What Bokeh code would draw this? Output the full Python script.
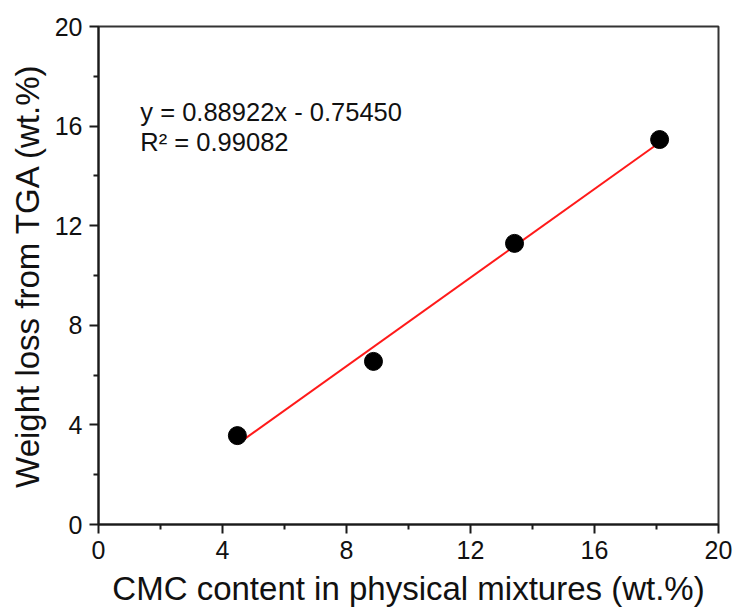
from bokeh.plotting import figure
from bokeh.models import FixedTicker, Label
from bokeh.embed import file_html
from bokeh.resources import INLINE

# CMC content vs. TGA weight loss
cmc_content = [4.48, 8.87, 13.42, 18.10]
weight_loss = [3.57, 6.55, 11.29, 15.46]

# linear fit parameters
slope = 0.88922
intercept = -0.75450
r_squared = 0.99082

major_ticks = [0, 4, 8, 12, 16, 20]
minor_ticks = [2, 6, 10, 14, 18]

FONT = "Liberation Sans"

p = figure(
    width=736, height=616,
    x_range=(0, 20), y_range=(0, 20),
    output_backend="svg", toolbar_location=None,
    min_border_left=98, min_border_right=18,
    min_border_top=26, min_border_bottom=92,
    background_fill_color="white", border_fill_color="white",
)
p.grid.visible = False
p.outline_line_color = "#333333"
p.outline_line_width = 2

for ax in (p.xaxis[0], p.yaxis[0]):
    ax.ticker = FixedTicker(ticks=major_ticks, minor_ticks=minor_ticks)
    ax.axis_line_width = 2
    ax.axis_line_color = "#1a1a1a"
    ax.major_tick_line_width = 2
    ax.minor_tick_line_width = 2
    ax.major_tick_line_color = "#1a1a1a"
    ax.minor_tick_line_color = "#1a1a1a"
    ax.major_tick_out = 9
    ax.major_tick_in = 0
    ax.minor_tick_out = 5
    ax.minor_tick_in = 0
    ax.major_label_text_font = FONT
    ax.major_label_text_font_size = "25px"
    ax.major_label_text_color = "#111111"
    ax.axis_label_text_font = FONT
    ax.axis_label_text_font_size = "33px"
    ax.axis_label_text_font_style = "normal"
    ax.axis_label_text_color = "#111111"
    ax.major_label_standoff = 7

p.xaxis.axis_label = "CMC content in physical mixtures (wt.%)"
p.yaxis.axis_label = "Weight loss from TGA (wt.%)"
p.xaxis.axis_label_standoff = 8
p.yaxis.axis_label_standoff = 6

# fitted line over the sampled range
x0, x1 = min(cmc_content), max(cmc_content)
p.line([x0, x1], [slope * x0 + intercept, slope * x1 + intercept],
       line_color="#ff1a1a", line_width=2)

p.scatter(cmc_content, weight_loss, size=18, marker="circle",
          fill_color="black", line_color="black")

eq_text = f"y = {slope:.5f}x - {abs(intercept):.5f}"
r2_text = f"R\u00b2 = {r_squared:.5f}"
p.add_layout(Label(x=1.35, y=16.55, text=eq_text, text_font=FONT,
                   text_font_size="25.5px", text_color="#111111",
                   text_baseline="alphabetic"))
p.add_layout(Label(x=1.35, y=15.38, text=r2_text, text_font=FONT,
                   text_font_size="25.5px", text_color="#111111",
                   text_baseline="alphabetic"))

open("out.html", "w").write(file_html(p, INLINE))
